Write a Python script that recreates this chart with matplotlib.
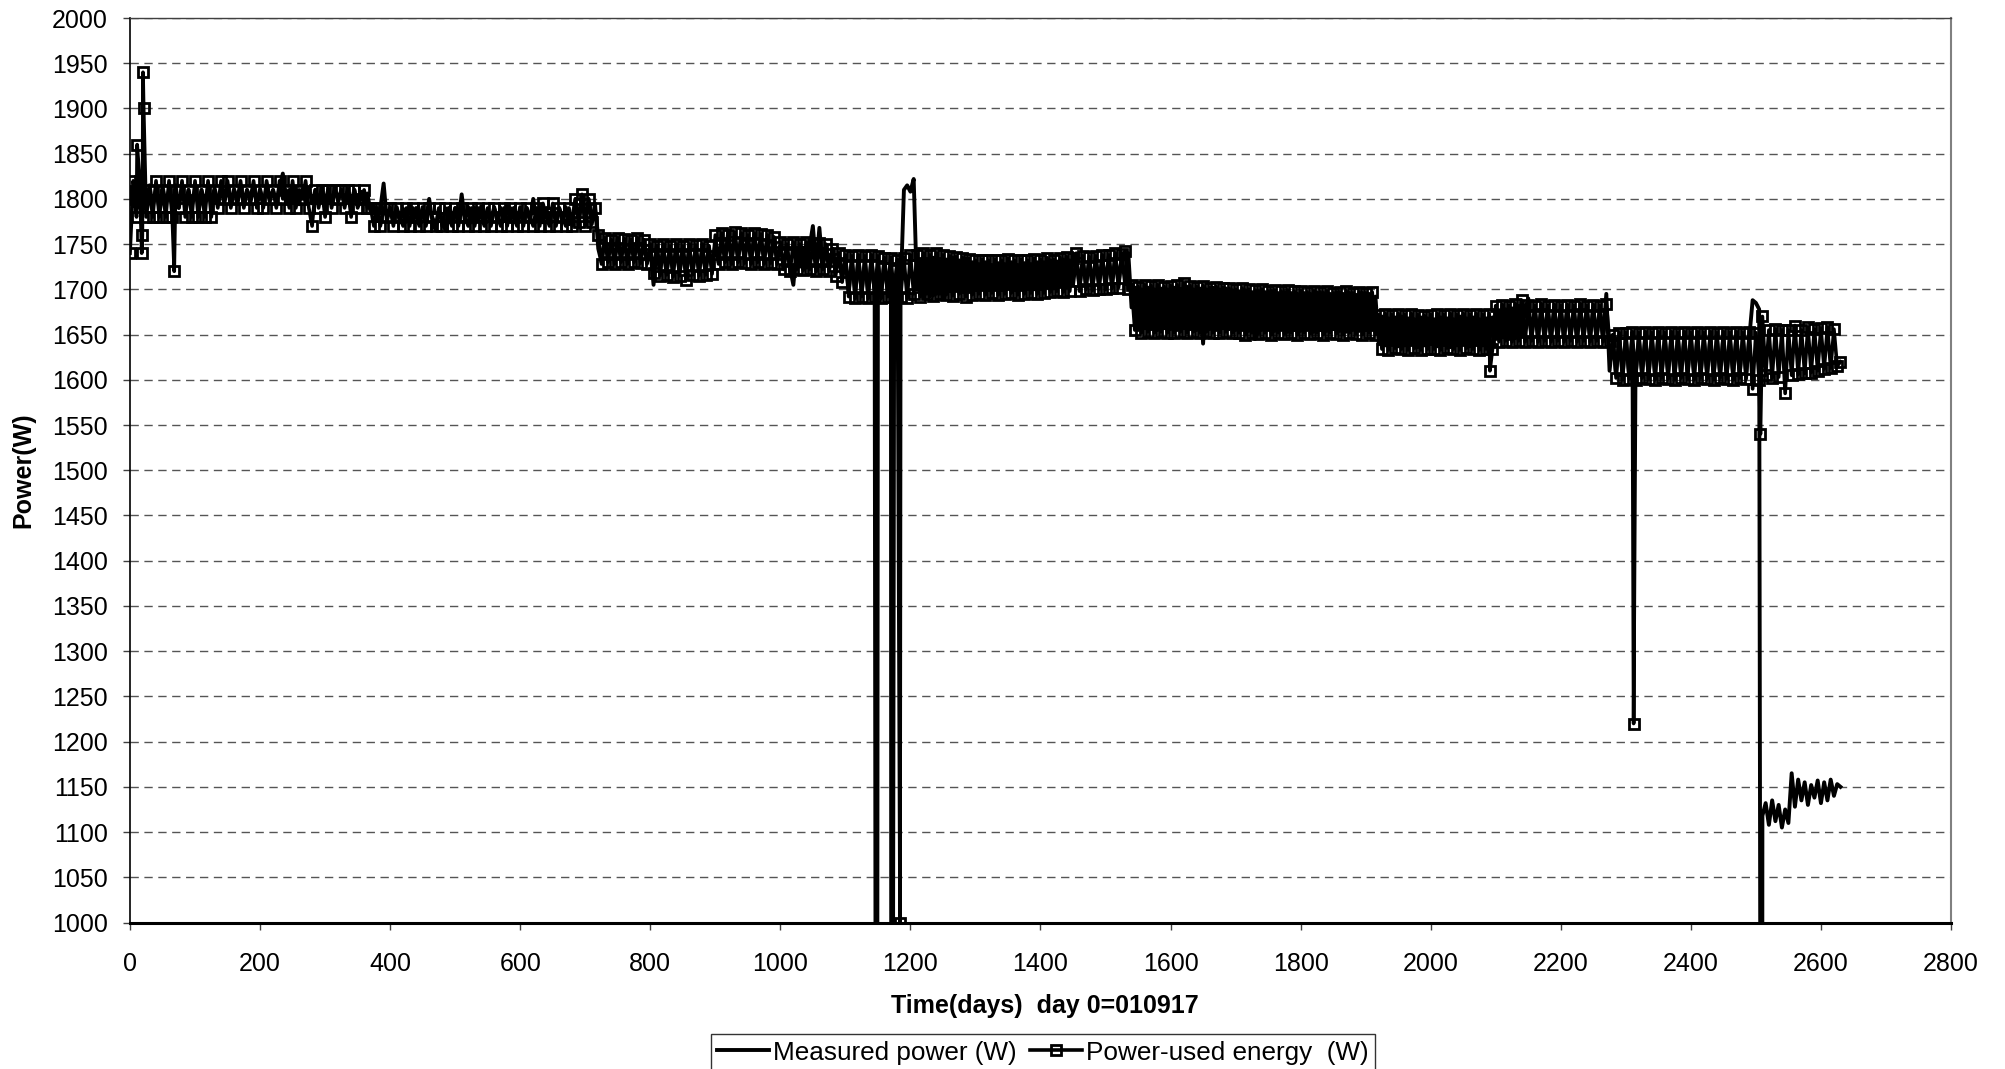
import numpy as np
import matplotlib
matplotlib.use("Agg")
import matplotlib.pyplot as plt

plt.rcParams['font.family'] = ['Liberation Sans', 'DejaVu Sans']

# ---------------- data: readings every 5 days, day 0 .. 2630 ----------------
step_days = 5

measured = [
    1812, 1792, 1814, 1790, 1810, 1795, 1815, 1792, 1812, 1790, 1814, 1795, 1810, 1792, 1815, 1790, 1812, 1795, 1810, 1792,  # 0-95
    1812, 1796, 1810, 1794, 1814, 1795, 1812, 1797, 1810, 1795, 1813, 1796, 1811, 1794, 1812, 1797, 1810, 1795, 1814, 1796,  # 100-195
    1811, 1795, 1812, 1797, 1810, 1796, 1813, 1828, 1795, 1810, 1796, 1812, 1794, 1811, 1796, 1812, 1795, 1810, 1797, 1812,  # 200-295
    1796, 1811, 1795, 1812, 1797, 1810, 1795, 1811, 1796, 1810, 1794, 1808, 1796, 1806, 1785, 1792, 1776, 1790, 1817, 1776,  # 300-395
    1790, 1775, 1791, 1774, 1789, 1776, 1792, 1775, 1790, 1774, 1791, 1776, 1800, 1775, 1765, 1789, 1776, 1765, 1790, 1775,  # 400-495
    1790, 1776, 1805, 1775, 1791, 1774, 1790, 1776, 1792, 1775, 1789, 1776, 1791, 1774, 1790, 1776, 1792, 1775, 1790, 1774,  # 500-595
    1791, 1776, 1790, 1775, 1800, 1776, 1791, 1774, 1790, 1775, 1792, 1776, 1790, 1774, 1791, 1772, 1778, 1800, 1772, 1804,  # 600-695
    1775, 1800, 1772, 1795, 1745, 1730, 1755, 1735, 1752, 1733, 1755, 1736, 1753, 1732, 1754, 1735, 1752, 1733, 1750, 1730,  # 700-795
    1745, 1705, 1748, 1720, 1746, 1718, 1745, 1720, 1748, 1719, 1746, 1720, 1745, 1718, 1747, 1720, 1745, 1719, 1748, 1722,  # 800-895
    1750, 1730, 1755, 1732, 1765, 1733, 1758, 1735, 1760, 1736, 1758, 1734, 1760, 1735, 1757, 1734, 1756, 1733, 1755, 1732,  # 900-995
    1748, 1725, 1747, 1723, 1705, 1745, 1725, 1746, 1724, 1747, 1770, 1725, 1768, 1724, 1746, 1723, 1745, 1720, 1740, 1712,  # 1000-1095
    1735, 1698, 1733, 1696, 1735, 1697, 1732, 1695, 1734, 1698, 1730, 1696, 1733, 1698, 1735, 1700, 1730, 1698, 1810, 1815,  # 1100-1195
    1808, 1822, 1700, 1730, 1690, 1732, 1692, 1735, 1695, 1730, 1690, 1733, 1698, 1735, 1700, 1732, 1698, 1734, 1700, 1730,  # 1200-1295
    1700, 1728, 1702, 1730, 1700, 1727, 1701, 1729, 1700, 1728, 1702, 1730, 1700, 1727, 1702, 1729, 1701, 1728, 1700, 1730,  # 1300-1395
    1702, 1730, 1703, 1732, 1701, 1731, 1704, 1733, 1702, 1732, 1705, 1735, 1703, 1733, 1705, 1734, 1703, 1735, 1706, 1736,  # 1400-1495
    1705, 1736, 1706, 1737, 1705, 1738, 1707, 1740, 1680, 1702, 1655, 1700, 1657, 1702, 1656, 1700, 1655, 1701, 1657, 1700,  # 1500-1595
    1656, 1702, 1655, 1700, 1657, 1703, 1656, 1700, 1655, 1701, 1640, 1700, 1656, 1702, 1655, 1700, 1657, 1701, 1656, 1699,  # 1600-1695
    1655, 1698, 1656, 1699, 1654, 1697, 1645, 1698, 1655, 1697, 1656, 1698, 1654, 1696, 1655, 1697, 1653, 1696, 1655, 1695,  # 1700-1795
    1654, 1696, 1655, 1695, 1653, 1697, 1655, 1696, 1654, 1695, 1656, 1697, 1654, 1695, 1653, 1696, 1655, 1694, 1654, 1696,  # 1800-1895
    1655, 1695, 1657, 1692, 1640, 1670, 1638, 1668, 1640, 1669, 1637, 1670, 1638, 1668, 1640, 1667, 1636, 1669, 1638, 1668,  # 1900-1995
    1640, 1667, 1637, 1669, 1639, 1668, 1636, 1667, 1638, 1670, 1640, 1668, 1637, 1669, 1639, 1667, 1638, 1668, 1640, 1669,  # 2000-2095
    1645, 1677, 1647, 1678, 1645, 1679, 1646, 1680, 1648, 1678, 1690, 1646, 1679, 1647, 1680, 1645, 1678, 1647, 1680, 1646,  # 2100-2195
    1679, 1646, 1680, 1647, 1678, 1645, 1680, 1646, 1679, 1647, 1680, 1645, 1678, 1646, 1695, 1610, 1645, 1606, 1648, 1605,  # 2200-2295
    1647, 1606, 1648, 1605, 1646, 1607, 1648, 1605, 1647, 1606, 1649, 1605, 1646, 1607, 1648, 1606, 1647, 1605, 1648, 1607,  # 2300-2395
    1647, 1606, 1648, 1605, 1646, 1607, 1648, 1605, 1647, 1606, 1648, 1605, 1646, 1607, 1648, 1606, 1647, 1605, 1648, 1688,  # 2400-2495
    1685, 1678, 1118, 1132, 1108, 1135, 1112, 1130, 1105, 1125, 1110, 1165, 1128, 1158, 1135, 1155, 1130, 1152, 1138, 1157,  # 2500-2595
    1132, 1155, 1135, 1158, 1140, 1153, 1150,                                                                                # 2600-2630
]

energy = [
    1740, 1820, 1780, 1820, 1940, 1780, 1810, 1780, 1820, 1780, 1810, 1780, 1820, 1780, 1810, 1790, 1820, 1780, 1810, 1780,  # 0-95
    1820, 1780, 1810, 1780, 1820, 1780, 1810, 1790, 1820, 1800, 1820, 1790, 1810, 1800, 1820, 1790, 1810, 1800, 1820, 1790,  # 100-195
    1810, 1790, 1820, 1800, 1810, 1790, 1820, 1800, 1810, 1790, 1820, 1790, 1810, 1800, 1820, 1790, 1770, 1810, 1790, 1810,  # 200-295
    1780, 1810, 1790, 1810, 1800, 1810, 1790, 1810, 1780, 1810, 1790, 1800, 1810, 1790, 1790, 1770, 1790, 1770, 1790, 1780,  # 300-395
    1790, 1770, 1790, 1780, 1770, 1790, 1770, 1790, 1780, 1770, 1790, 1770, 1790, 1780, 1770, 1790, 1770, 1790, 1780, 1770,  # 400-495
    1790, 1770, 1790, 1780, 1770, 1790, 1770, 1790, 1780, 1770, 1790, 1770, 1790, 1780, 1770, 1790, 1770, 1790, 1780, 1770,  # 500-595
    1790, 1770, 1790, 1780, 1770, 1790, 1770, 1795, 1780, 1770, 1795, 1770, 1790, 1780, 1770, 1790, 1770, 1800, 1775, 1805,  # 600-695
    1770, 1800, 1775, 1790, 1760, 1728, 1757, 1730, 1755, 1728, 1757, 1730, 1756, 1728, 1755, 1730, 1757, 1729, 1755, 1728,  # 700-795
    1750, 1718, 1748, 1715, 1750, 1716, 1748, 1714, 1750, 1715, 1748, 1710, 1750, 1716, 1749, 1715, 1750, 1716, 1748, 1717,  # 800-895
    1760, 1728, 1762, 1730, 1760, 1728, 1763, 1730, 1762, 1729, 1760, 1728, 1762, 1730, 1761, 1728, 1760, 1729, 1758, 1728,  # 900-995
    1752, 1722, 1750, 1720, 1752, 1722, 1750, 1721, 1752, 1722, 1750, 1720, 1751, 1722, 1750, 1720, 1745, 1715, 1740, 1708,  # 1000-1095
    1738, 1692, 1737, 1690, 1738, 1692, 1737, 1690, 1738, 1692, 1737, 1690, 1735, 1692, 1735, 1691, 1733, 1692, 1735, 1690,  # 1100-1195
    1738, 1695, 1738, 1692, 1740, 1695, 1738, 1693, 1740, 1695, 1738, 1694, 1737, 1693, 1736, 1695, 1735, 1692, 1734, 1694,  # 1200-1295
    1732, 1695, 1733, 1694, 1732, 1696, 1733, 1694, 1732, 1695, 1734, 1696, 1732, 1694, 1733, 1695, 1732, 1696, 1734, 1695,  # 1300-1395
    1733, 1696, 1735, 1697, 1733, 1698, 1735, 1697, 1736, 1698, 1735, 1740, 1698, 1737, 1700, 1736, 1699, 1737, 1700, 1738,  # 1400-1495
    1700, 1738, 1701, 1740, 1702, 1739, 1742, 1700, 1705, 1655, 1703, 1652, 1705, 1653, 1704, 1652, 1705, 1653, 1703, 1652,  # 1500-1595
    1704, 1652, 1705, 1653, 1707, 1652, 1704, 1653, 1703, 1652, 1704, 1653, 1702, 1652, 1703, 1652, 1702, 1653, 1701, 1652,  # 1600-1695
    1700, 1652, 1701, 1650, 1700, 1652, 1699, 1651, 1700, 1652, 1698, 1650, 1699, 1652, 1698, 1651, 1699, 1652, 1698, 1650,  # 1700-1795
    1698, 1652, 1697, 1651, 1698, 1652, 1697, 1650, 1698, 1652, 1696, 1651, 1697, 1650, 1698, 1652, 1696, 1651, 1697, 1650,  # 1800-1895
    1696, 1652, 1697, 1650, 1672, 1634, 1673, 1633, 1672, 1635, 1673, 1634, 1672, 1633, 1673, 1635, 1672, 1633, 1671, 1634,  # 1900-1995
    1672, 1634, 1673, 1633, 1672, 1635, 1673, 1634, 1672, 1633, 1673, 1635, 1672, 1634, 1673, 1633, 1672, 1634, 1673, 1634,  # 2000-2095
    1682, 1642, 1683, 1643, 1682, 1642, 1684, 1643, 1688, 1642, 1683, 1643, 1682, 1642, 1684, 1643, 1682, 1642, 1683, 1643,  # 2100-2195
    1682, 1642, 1683, 1643, 1682, 1642, 1684, 1643, 1682, 1642, 1683, 1643, 1682, 1642, 1684, 1643, 1650, 1602, 1652, 1600,  # 2200-2295
    1652, 1601, 1653, 1600, 1652, 1602, 1653, 1601, 1652, 1600, 1653, 1602, 1652, 1601, 1653, 1600, 1652, 1602, 1653, 1601,  # 2300-2395
    1652, 1600, 1653, 1602, 1652, 1601, 1653, 1600, 1652, 1602, 1653, 1601, 1652, 1600, 1653, 1602, 1652, 1601, 1653, 1590,  # 2400-2495
    1652, 1600, 1670, 1605, 1655, 1602, 1656, 1603, 1655, 1585, 1655, 1605, 1660, 1606, 1655, 1607, 1658, 1608, 1656, 1610,  # 2500-2595
    1657, 1612, 1658, 1613, 1656, 1615, 1620,                                                                                # 2600-2630
]

# isolated readings between the regular days (outliers / outages)
measured_event_days = [1148, 1171, 2509]
measured_event_vals = [0, 0, 0]
energy_event_days = [8, 11, 18, 19, 21, 68, 1184, 2091, 2312, 2507]
energy_event_vals = [1800, 1860, 1740, 1760, 1900, 1720, 1000, 1610, 1220, 1540]

xticks = list(range(0, 2801, 200))
yticks = list(range(1000, 2001, 50))


def merge(vals, ev_d, ev_v):
    days = np.arange(len(vals)) * step_days
    d = np.concatenate([days.astype(float), np.asarray(ev_d, float)])
    v = np.concatenate([np.asarray(vals, float), np.asarray(ev_v, float)])
    o = np.argsort(d, kind="stable")
    return d[o], v[o]


md, mv = merge(measured, measured_event_days, measured_event_vals)
ed, ev = merge(energy, energy_event_days, energy_event_vals)

# ---------------- figure ----------------
W, H = 2006, 1069
fig = plt.figure(figsize=(W / 100, H / 100), dpi=100)
left, right, top, bottom = 130, 1951, 18, 922.5
ax = fig.add_axes([left / W, 1 - bottom / H, (right - left) / W, (bottom - top) / H])

ax.plot(ed, ev, color="black", lw=2.6, marker="s", markersize=7,
        markerfacecolor="none", markeredgecolor="black", markeredgewidth=2.0,
        label="Power-used energy  (W)", zorder=3)
ax.plot(md, mv, color="black", lw=2.8, label="Measured power (W)", zorder=4)

ax.set_xlim(0, 2800)
ax.set_ylim(1000, 2000)
ax.set_xticks(xticks)
ax.set_yticks(yticks)
ax.yaxis.grid(True, color="#555555", lw=1.0, linestyle=(0, (6, 4)))
ax.xaxis.grid(False)
ax.set_axisbelow(True)

for s in ["left", "bottom"]:
    ax.spines[s].set_color("black")
ax.spines["left"].set_linewidth(1.2)
ax.spines["bottom"].set_linewidth(2.2)
ax.spines["right"].set_color("#808080")
ax.spines["right"].set_linewidth(1.5)
ax.spines["top"].set_color("#404040")
ax.spines["top"].set_linewidth(1.0)

ax.tick_params(axis="x", direction="out", length=5, width=1, color="#404040",
               pad=16, labelsize=18)
ax.tick_params(axis="y", direction="out", length=5, width=1, color="#404040",
               pad=11, labelsize=18)

fig.text(23 / W, 1 - 470 / H, "Power(W)", rotation=90, ha="center", va="center",
         fontsize=18, fontweight="bold")
fig.text(1045 / W, 1 - 1006 / H, "Time(days)  day 0=010917", ha="center", va="center",
         fontsize=18, fontweight="bold")

h, l = ax.get_legend_handles_labels()
leg = fig.legend([h[1], h[0]], [l[1], l[0]], loc="upper center",
                 bbox_to_anchor=(1043 / W, 1 - 1034 / H), ncol=2, fontsize=18.8,
                 frameon=True, fancybox=False, edgecolor="black",
                 handlelength=2.0, handletextpad=0.15, columnspacing=0.5,
                 borderpad=0.25, borderaxespad=0)
leg.get_frame().set_linewidth(1.0)

fig.savefig("out.png", dpi=100)
